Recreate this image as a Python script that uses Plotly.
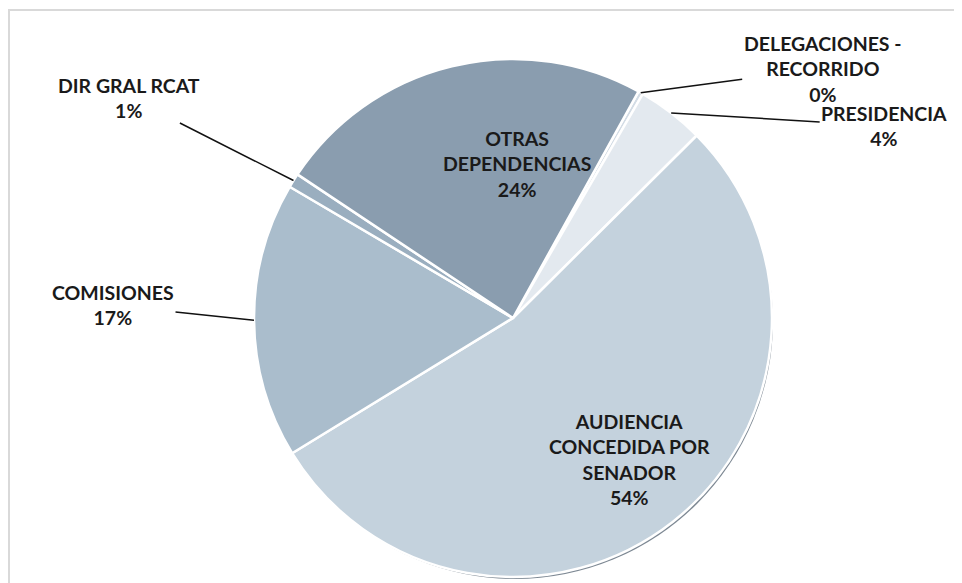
import math
import plotly.graph_objects as go

# Data (shares, in %)
labels = ["DELEGACIONES -<br>RECORRIDO", "PRESIDENCIA", "AUDIENCIA<br>CONCEDIDA POR<br>SENADOR",
          "COMISIONES", "DIR GRAL RCAT", "OTRAS<br>DEPENDENCIAS"]
values = [0.3, 4.2, 53.7, 17.2, 0.9, 23.7]
colors = ["#d3dce5", "#e3e9ef", "#c4d2dd", "#aabdcc", "#9aaebf", "#8a9daf"]
inside = [False, False, True, False, False, True]

W, H = 962, 583
cx, cy, R = 505, 310, 259
rotation = 29

total = sum(values)
pcts = [v / total * 100 for v in values]

FONT = dict(family="Lato", size=19.5, color="#1a1a1a", weight="bold")


def dom(x, y, r):
    return dict(x=[(x - r) / W, (x + r) / W], y=[1 - (y + r) / H, 1 - (y - r) / H])


fig = go.Figure()
# soft shadow behind the pie
fig.add_trace(go.Pie(values=[1], marker=dict(colors=["#7d8893"], line=dict(width=0)),
                     textinfo="none", hoverinfo="skip", showlegend=False,
                     domain=dom(cx + 2, cy + 3, R - 1)))
fig.add_trace(go.Pie(
    labels=labels, values=values, sort=False, direction="clockwise", rotation=rotation,
    marker=dict(colors=colors, line=dict(color="white", width=2.5)),
    textinfo="none",
    domain=dom(cx, cy, R),
    showlegend=False, hoverinfo="label+percent",
))

# label placement styles (pixel offsets / radius fractions)
outside_offsets = {0: (182, -24), 1: (213, 13), 3: (-141, -15), 4: (-164, -83)}
inside_place = {2: (0.83, -16, 28), 5: (0.6, 41, 3)}

cum = 0.0
for i, v in enumerate(values):
    mid = rotation + (cum + v / 2) / total * 360
    cum += v
    a = math.radians(mid)
    text = f"{labels[i]}<br>{round(pcts[i]):d}%"
    if inside[i]:
        rf, dx, dy = inside_place[i]
        px = cx + rf * R * math.sin(a) + dx
        py = cy - rf * R * math.cos(a) - dy
        fig.add_annotation(x=px / W, y=1 - py / H, xref="paper", yref="paper",
                           xanchor="center", yanchor="middle",
                           text=text, showarrow=False, align="center", font=FONT)
        continue
    px = cx + R * math.sin(a)
    py = cy - R * math.cos(a)
    ax, ay = outside_offsets[i]
    fig.add_annotation(
        x=px / W, y=1 - py / H, xref="paper", yref="paper",
        text=text, showarrow=True, arrowhead=0, arrowwidth=1.5, arrowcolor="#111111",
        ax=ax, ay=ay, align="center", font=FONT,
    )

fig.add_shape(type="rect", xref="paper", yref="paper",
              x0=1 / W, x1=1.05, y0=-0.05, y1=1 - 2 / H,
              line=dict(color="#d9d9d9", width=2), fillcolor="rgba(0,0,0,0)", layer="below")

fig.update_layout(width=W, height=H, margin=dict(l=0, r=0, t=0, b=0),
                  paper_bgcolor="white", plot_bgcolor="white")
fig.write_html("out.html")
